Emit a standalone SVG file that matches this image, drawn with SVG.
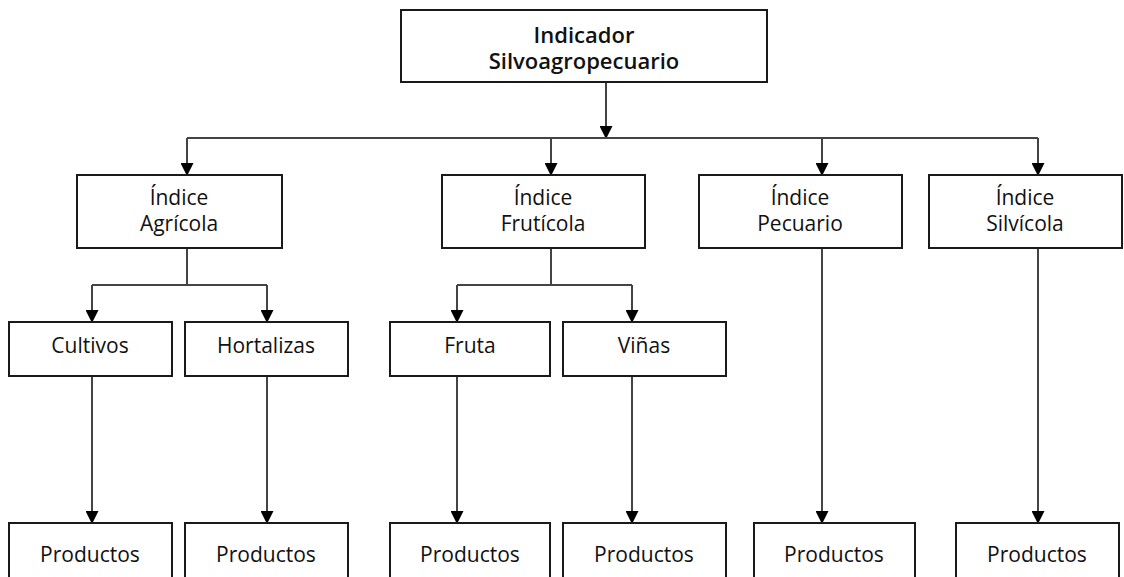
<svg xmlns="http://www.w3.org/2000/svg" width="1124" height="577" viewBox="0 0 1124 577">
<style>
.box{fill:#fff;stroke:#1a1a1a;stroke-width:2}
.t{font-family:"Open Sans","Noto Sans",sans-serif;font-size:21px;fill:#111;text-anchor:middle}
.tb{font-family:"Open Sans","Noto Sans",sans-serif;font-size:22px;font-weight:600;fill:#111;text-anchor:middle}
.c{fill:none;stroke:#444;stroke-width:2}
</style>
<defs>
<marker id="ah" markerWidth="12" markerHeight="12" refX="6" refY="11" orient="auto" markerUnits="userSpaceOnUse" viewBox="0 0 12 12">
<path d="M0,0 L12,0 L6,12 Z" fill="#000" transform="rotate(-90 6 6)"/>
</marker>
<marker id="a" markerWidth="13" markerHeight="13" refX="12" refY="6.5" orient="auto" markerUnits="userSpaceOnUse" viewBox="0 0 13 13">
<path d="M0,0 L13,6.5 L0,13 Z" fill="#000"/>
</marker>
</defs>
<rect width="1124" height="577" fill="#fff"/>
<g id="connectors">
<path class="c" d="M606,82 V138" marker-end="url(#a)"/>
<path class="c" d="M187,138 H1038"/>
<path class="c" d="M187,138 V175" marker-end="url(#a)"/>
<path class="c" d="M551,138 V175" marker-end="url(#a)"/>
<path class="c" d="M822,138 V175" marker-end="url(#a)"/>
<path class="c" d="M1038,138 V175" marker-end="url(#a)"/>
<path class="c" d="M187,248 V285"/>
<path class="c" d="M92,285 H267"/>
<path class="c" d="M92,285 V322" marker-end="url(#a)"/>
<path class="c" d="M267,285 V322" marker-end="url(#a)"/>
<path class="c" d="M551,248 V285"/>
<path class="c" d="M457,285 H632"/>
<path class="c" d="M457,285 V322" marker-end="url(#a)"/>
<path class="c" d="M632,285 V322" marker-end="url(#a)"/>
<path class="c" d="M92,376 V523" marker-end="url(#a)"/>
<path class="c" d="M267,376 V523" marker-end="url(#a)"/>
<path class="c" d="M457,376 V523" marker-end="url(#a)"/>
<path class="c" d="M632,376 V523" marker-end="url(#a)"/>
<path class="c" d="M822,248 V523" marker-end="url(#a)"/>
<path class="c" d="M1038,248 V523" marker-end="url(#a)"/>
</g>
<g id="indicador"><rect class="box" x="401" y="10" width="366" height="72"/><text class="tb" x="584" y="43">Indicador</text><text class="tb" x="584" y="69">Silvoagropecuario</text></g>
<g id="agricola"><rect class="box" x="77" y="175" width="205" height="73"/><text class="t" x="179" y="205">Índice</text><text class="t" x="179" y="231">Agrícola</text></g>
<g id="fruticola"><rect class="box" x="442" y="175" width="203" height="73"/><text class="t" x="543" y="205">Índice</text><text class="t" x="543" y="231">Frutícola</text></g>
<g id="pecuario"><rect class="box" x="699" y="175" width="203" height="73"/><text class="t" x="800" y="205">Índice</text><text class="t" x="800" y="231">Pecuario</text></g>
<g id="silvicola"><rect class="box" x="929" y="175" width="193" height="73"/><text class="t" x="1025" y="205">Índice</text><text class="t" x="1025" y="231">Silvícola</text></g>
<g id="cultivos"><rect class="box" x="9" y="322" width="163" height="54"/><text class="t" x="90" y="353">Cultivos</text></g>
<g id="hortalizas"><rect class="box" x="185" y="322" width="163" height="54"/><text class="t" x="266" y="353">Hortalizas</text></g>
<g id="fruta"><rect class="box" x="390" y="322" width="160" height="54"/><text class="t" x="470" y="353">Fruta</text></g>
<g id="vinas"><rect class="box" x="563" y="322" width="163" height="54"/><text class="t" x="644" y="353">Viñas</text></g>
<g id="prod1"><rect class="box" x="9" y="523" width="163" height="80"/><text class="t" x="90" y="562">Productos</text></g>
<g id="prod2"><rect class="box" x="185" y="523" width="163" height="80"/><text class="t" x="266" y="562">Productos</text></g>
<g id="prod3"><rect class="box" x="390" y="523" width="160" height="80"/><text class="t" x="470" y="562">Productos</text></g>
<g id="prod4"><rect class="box" x="563" y="523" width="163" height="80"/><text class="t" x="644" y="562">Productos</text></g>
<g id="prod5"><rect class="box" x="754" y="523" width="161" height="80"/><text class="t" x="834" y="562">Productos</text></g>
<g id="prod6"><rect class="box" x="956" y="523" width="163" height="80"/><text class="t" x="1037" y="562">Productos</text></g>
</svg>
